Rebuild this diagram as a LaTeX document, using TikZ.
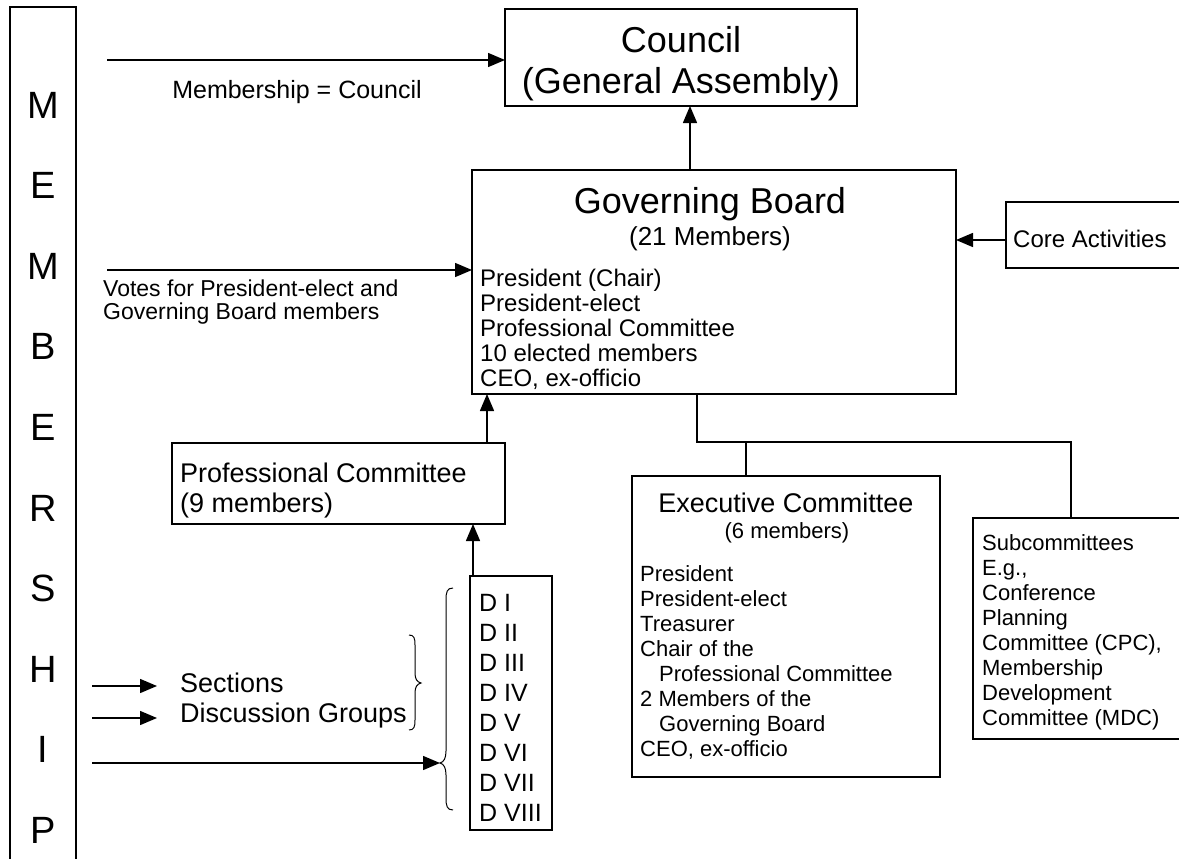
\documentclass[tikz,border=0pt]{standalone}
\usepackage{fontspec}
\setmainfont{Liberation Sans}
\usetikzlibrary{arrows.meta}
\tikzset{
  box/.style={draw, line width=1.5pt, inner sep=0pt, outer sep=0pt, anchor=north west},
  arr/.style={line width=1.5pt, -{Triangle[length=17pt,width=14pt]}},
  ln/.style={line width=1.5pt},
  bracepath/.style={line width=1pt},
  letter/.style={font=\fontsize{38}{40}\selectfont, inner sep=0pt},
  tBig/.style={font=\fontsize{36}{40}\selectfont, inner sep=0pt, anchor=base},
  tMid/.style={font=\fontsize{26}{30}\selectfont, inner sep=0pt, anchor=base},
  tHead/.style={font=\fontsize{27}{30}\selectfont, inner sep=0pt, anchor=base},
  tSmall/.style={font=\fontsize{22}{25}\selectfont, inner sep=0pt, anchor=base},
  tL27/.style={font=\fontsize{27}{30}\selectfont, inner sep=0pt, anchor=base west},
  tL25/.style={font=\fontsize{25}{30}\selectfont, inner sep=0pt, anchor=base west},
  tL24/.style={font=\fontsize{24}{28}\selectfont, inner sep=0pt, anchor=base west},
  tL23/.style={font=\fontsize{23}{26}\selectfont, inner sep=0pt, anchor=base west},
  tL22/.style={font=\fontsize{22}{25}\selectfont, inner sep=0pt, anchor=base west},
  tLab/.style={font=\fontsize{25}{28}\selectfont, inner sep=0pt, anchor=base},
}
\begin{document}
\begin{tikzpicture}[x=1pt,y=-1pt]
\useasboundingbox (0,0) rectangle (1179,859);
\fill[white] (0,0) rectangle (1179,859);

% ---------- boxes ----------
\node[box, minimum width=66pt,  minimum height=880pt] (mem)     at (10,7) {};
\node[box, minimum width=352pt, minimum height=97pt]  (council) at (505,9) {};
\node[box, minimum width=484pt, minimum height=224pt] (gb)      at (472,170) {};
\node[box, minimum width=220pt, minimum height=66pt]  (core)    at (1006,202) {};
\node[box, minimum width=333pt, minimum height=81pt]  (pc)      at (172,443) {};
\node[box, minimum width=82pt,  minimum height=254pt] (dbox)    at (470,576) {};
\node[box, minimum width=308pt, minimum height=301pt] (ex)      at (632,476) {};
\node[box, minimum width=240pt, minimum height=221pt] (sub)     at (973,518) {};

% ---------- MEMBERSHIP ----------
\foreach \l [count=\i from 0] in {M,E,M,B,E,R,S,H,I,P}
  \node[letter] (mem\i) at (43,{105+80.6*\i}) {\l};

% ---------- Council ----------
\node[tBig] (councilA) at (681,53) {Council};
\node[tBig] (councilB) at (681,93) {(General Assembly)};
\node[tLab] (memlab) at (297,99) {Membership = Council};

% ---------- Governing Board ----------
\node[tBig] (gbA) at (710,213) {Governing Board};
\node[tMid] (gbB) at (710,245) {(21 Members)};
\foreach \t [count=\i from 0] in {President (Chair), President-elect, Professional Committee, 10 elected members, {CEO, ex-officio}}
  \node[tL24] (gbL\i) at (480,{386-25*(4-\i)}) {\t};

% votes label
\node[tL23] (votesA) at (103,296) {Votes for President-elect and};
\node[tL23] (votesB) at (103,319) {Governing Board members};

% core
\node[tL24] (coreT) at (1013,247) {Core Activities};

% professional committee
\node[tL27] (pcA) at (180,482) {Professional Committee};
\node[tL27] (pcB) at (180,512) {(9 members)};

% sections
\node[tL27] (secA) at (180,692) {Sections};
\node[tL27] (secB) at (180,722) {Discussion Groups};

% divisions
\foreach \t [count=\i from 0] in {D I, D II, D III, D IV, D V, D VI, D VII, D VIII}
  \node[tL25] (d\i) at (479,{611+30*\i}) {\t};

% executive committee
\node[tHead] (exA) at (786,512) {Executive Committee};
\node[tSmall] (exB) at (787,538) {(6 members)};
\node[tL22] (ex0) at (640,581) {President};
\node[tL22] (ex1) at (640,606) {President-elect};
\node[tL22] (ex2) at (640,631) {Treasurer};
\node[tL22] (ex3) at (640,656) {Chair of the};
\node[tL22] (ex4) at (659,681) {Professional Committee};
\node[tL22] (ex5) at (640,706) {2 Members of the};
\node[tL22] (ex6) at (659,731) {Governing Board};
\node[tL22] (ex7) at (640,756) {CEO, ex-officio};

% subcommittees
\foreach \t [count=\i from 0] in {Subcommittees, {E.g.,}, Conference, Planning, {Committee (CPC),}, Membership, Development, Committee (MDC)}
  \node[tL22] (sb\i) at (982,{550+25*\i}) {\t};

% ---------- connectors ----------
\coordinate (m1) at (107,60);
\draw[arr] (m1) -- (council.west |- m1);
\coordinate (m2) at (107,270);
\draw[arr] (m2) -- (gb.west |- m2);

\coordinate (s1) at (92,686);  \coordinate (s1e) at (157,686);
\coordinate (s2) at (92,718);  \coordinate (s2e) at (157,718);
\coordinate (s3) at (92,763);  \coordinate (bt) at (440,763);
\draw[arr] (s1) -- (s1e);
\draw[arr] (s2) -- (s2e);
\draw[arr] (s3) -- (bt);

\coordinate (xc) at (690,0);
\draw[arr] (gb.north -| xc) -- (council.south -| xc);
\coordinate (yc) at (0,240);
\draw[arr] (core.west |- yc) -- (gb.east |- yc);
\coordinate (xp) at (487,0);
\draw[arr] (pc.north -| xp) -- (gb.south -| xp);
\coordinate (xd) at (473,0);
\draw[arr] (dbox.north -| xd) -- (pc.south -| xd);

\coordinate (j1) at (697,442);
\coordinate (j2) at (746,442);
\coordinate (j3) at (1071,442);
\draw[ln] (gb.south -| j1) -- (j1) -- (j3) -- (sub.north -| j3);
\draw[ln] (j2) -- (ex.north -| j2);

% ---------- braces ----------
\draw[bracepath] (453,588) .. controls (447,588) and (446,592) .. (446,600) -- (446,751)
  .. controls (446,758) and (444,762) .. (bt)
  .. controls (444,764) and (446,768) .. (446,775) -- (446,798)
  .. controls (446,806) and (447,810) .. (453,810);
\draw[bracepath] (409,635) .. controls (414,635) and (415,638) .. (415,645) -- (415,673)
  .. controls (415,679) and (417,682) .. (421,683)
  .. controls (417,684) and (415,687) .. (415,693) -- (415,720)
  .. controls (415,727) and (414,730) .. (409,730);
\end{tikzpicture}
\end{document}
